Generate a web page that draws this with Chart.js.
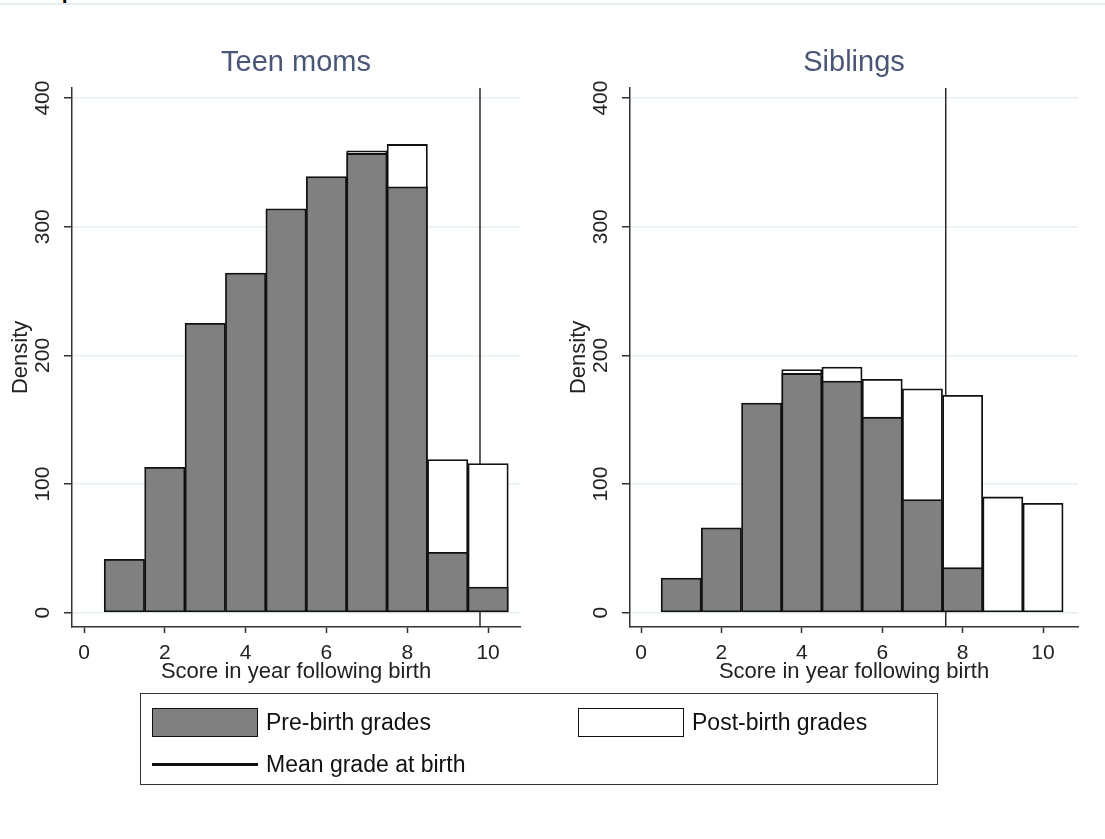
<!DOCTYPE html>
<html>
<head>
<meta charset="utf-8">
<script src="https://cdn.jsdelivr.net/npm/chart.js@4.4.1/dist/chart.umd.min.js"></script>
<style>
  html, body { margin: 0; padding: 0; background: #fff; }
  body { width: 1105px; height: 839px; position: relative; overflow: hidden;
         font-family: "Liberation Sans", Arial, sans-serif; }
  #caption { position: absolute; left: 62px; top: -18px; font: bold 20px/20px "Liberation Serif", serif; color: #000; }
  #rule { position: absolute; left: 0; top: 3px; width: 1105px; height: 2px; background: #e4ecee; }
  canvas { position: absolute; top: 0; }
  #teen { left: 0; }
  #sib { left: 558px; }
  #legend { position: absolute; left: 140px; top: 693px; width: 798px; height: 92px;
            border: 1.5px solid #333; box-sizing: border-box; color: #111; font-size: 23px; }
  .item { position: absolute; display: flex; align-items: center; height: 30px; }
  .sw { width: 106px; height: 29px; box-sizing: border-box; border: 1.5px solid #111; margin-right: 8px; }
  .ln { width: 106px; height: 3px; background: #111; margin-right: 8px; }
</style>
</head>
<body>
<div id="caption">p</div>
<div id="rule"></div>
<canvas id="teen" width="552" height="700"></canvas>
<canvas id="sib" width="547" height="700"></canvas>
<div id="legend"></div>
<script>
// Score bins (histogram bins of width 1 centred on each score)
const bins = [1, 2, 3, 4, 5, 6, 7, 8, 9, 10];

// Teen moms: density of grades before and after the birth
const teenPre  = [41.5, 113, 225, 264, 314, 339, 357, 331, 47, 20];
const teenPost = [null, null, null, null, null, null, 359, 364, 119, 116];
const teenMean = 9.8;

// Siblings: same measures
const sibPre  = [27, 66, 163, 186, 180, 152, 88, 35, 0, 0];
const sibPost = [null, null, null, 189, 191, 181.5, 174, 169, 90, 85];
const sibMean = 7.58;

const seriesLabels = ['Pre-birth grades', 'Post-birth grades', 'Mean grade at birth'];
const panelTitles = ['Teen moms', 'Siblings'];
const xTitle = 'Score in year following birth';
const yTitle = 'Density';
const xTicks = [0, 2, 4, 6, 8, 10];
const yTicks = [0, 100, 200, 300, 400];

const Y_MIN = -11.1, Y_MAX = 408;
const FONT = '"Liberation Sans", Arial, sans-serif';
const INK = '#222';
const AXIS = '#333';

function toPoints(values) {
  return bins.map((b, i) => ({ x: b, y: values[i] }));
}

function panel(id, title, pre, post, mean, xMin, xMax, padRight) {
  const barStyle = {
    borderColor: '#111111', borderWidth: 1.8, borderSkipped: false,
    grouped: false, barPercentage: 1, categoryPercentage: 1
  };
  return new Chart(document.getElementById(id), {
    type: 'bar',
    data: {
      datasets: [
        Object.assign({ label: seriesLabels[0], data: toPoints(pre), backgroundColor: '#808080' }, barStyle),
        Object.assign({ label: seriesLabels[1], data: toPoints(post), backgroundColor: '#ffffff' }, barStyle),
        {
          type: 'line', label: seriesLabels[2],
          data: [{ x: mean, y: Y_MIN }, { x: mean, y: Y_MAX }],
          borderColor: '#2a2a2a', borderWidth: 1.5, pointRadius: 0, fill: false
        }
      ]
    },
    options: {
      responsive: false, animation: false, devicePixelRatio: 1,
      layout: { padding: { top: 46, left: 0, right: padRight, bottom: 15 } },
      plugins: {
        legend: { display: false },
        tooltip: { enabled: false },
        title: {
          display: true, text: title, fullSize: false, color: '#4a5675',
          font: { family: FONT, size: 29, weight: 'normal' },
          padding: { top: 0, bottom: 7 }
        }
      },
      scales: {
        x: {
          type: 'linear', min: xMin, max: xMax, offset: false,
          afterBuildTicks: s => { s.ticks = xTicks.map(v => ({ value: v })); },
          afterFit: s => { s.height = 58; },
          ticks: { font: { family: FONT, size: 21 }, color: INK, padding: 8, maxRotation: 0, autoSkip: false },
          grid: { offset: false, drawOnChartArea: false, drawTicks: true, tickLength: 6, tickColor: AXIS, tickWidth: 1.5 },
          border: { color: AXIS, width: 1.5 },
          title: { display: true, text: xTitle, color: INK, font: { family: FONT, size: 22 }, padding: { top: 0, bottom: 0 } }
        },
        y: {
          min: Y_MIN, max: Y_MAX,
          afterBuildTicks: s => { s.ticks = yTicks.map(v => ({ value: v })); },
          afterFit: s => { s.width = 72; },
          ticks: { font: { family: FONT, size: 21 }, color: INK, padding: 3, minRotation: 90, maxRotation: 90, crossAlign: 'center' },
          grid: { color: '#e6eff1', lineWidth: 1.5, tickColor: AXIS, tickLength: 8, tickWidth: 1.5 },
          border: { color: AXIS, width: 1.5 },
          title: { display: true, text: yTitle, color: INK, font: { family: FONT, size: 22 }, padding: { top: 8, bottom: 0 } }
        }
      }
    }
  });
}

panel('teen', panelTitles[0], teenPre, teenPost, teenMean, -0.297, 10.79, 32);
panel('sib', panelTitles[1], sibPre, sibPost, sibMean, -0.274, 10.87, 27);

// Shared key below both panels
const legend = document.getElementById('legend');
const keyItems = [
  { kind: 'sw', fill: '#808080', text: seriesLabels[0], left: 11, top: 13 },
  { kind: 'sw', fill: '#ffffff', text: seriesLabels[1], left: 437, top: 13 },
  { kind: 'ln', text: seriesLabels[2], left: 11, top: 55 }
];
keyItems.forEach(k => {
  const item = document.createElement('div');
  item.className = 'item';
  item.style.left = k.left + 'px';
  item.style.top = k.top + 'px';
  const mark = document.createElement('div');
  mark.className = k.kind;
  if (k.fill) mark.style.background = k.fill;
  const label = document.createElement('span');
  label.textContent = k.text;
  item.appendChild(mark);
  item.appendChild(label);
  legend.appendChild(item);
});
</script>
</body>
</html>
